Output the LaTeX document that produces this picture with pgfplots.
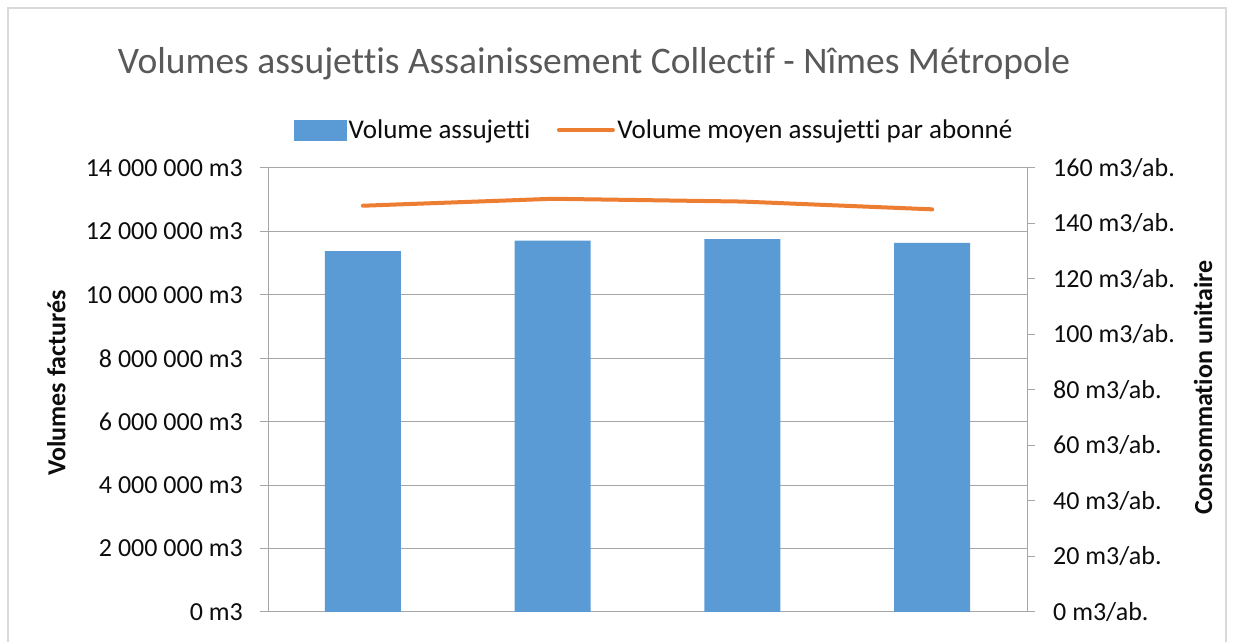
\documentclass[border=0pt]{standalone}
\usepackage{pgfplots}
\pgfplotsset{compat=1.18}
\usepackage{fontspec}
\setmainfont{Carlito}[Ligatures={NoCommon}]
\definecolor{barblue}{RGB}{91,155,213}
\definecolor{lineorange}{RGB}{237,125,49}
\definecolor{gridgray}{RGB}{166,166,166}
\definecolor{framegray}{RGB}{217,217,217}
\definecolor{titlegray}{RGB}{89,89,89}
\definecolor{labelblack}{RGB}{13,13,13}
\begin{document}
\begin{tikzpicture}[x=1bp,y=1bp]
\useasboundingbox (0,0) rectangle (1234,642);
\fill[white] (0,0) rectangle (1234,642);
\draw[framegray, line width=1.2bp] (8,-5) rectangle (1226,634);
\node[anchor=base, font=\fontsize{37.5bp}{44bp}\selectfont, text=titlegray, inner sep=0pt] at (594,568) {Volumes assujettis Assainissement Collectif - Nîmes Métropole};

\begin{axis}[
  at={(268bp,30bp)}, anchor=south west,
  scale only axis, width=759bp, height=444bp,
  xmin=-0.5, xmax=3.5, ymin=0, ymax=14000000,
  scaled y ticks=false,
  axis y line*=left, axis x line*=bottom,
  xtick=\empty,
  ytick={0,2000000,4000000,6000000,8000000,10000000,12000000,14000000},
  yticklabels={0 m3,2 000 000 m3,4 000 000 m3,6 000 000 m3,8 000 000 m3,10 000 000 m3,12 000 000 m3,14 000 000 m3},
  ymajorgrids, grid style={gridgray, line width=1bp},
  axis line style={gridgray, line width=1bp, -},
  y tick style={gridgray, line width=1bp},
  tick align=outside, major tick length=8bp,
  yticklabel style={font=\fontsize{26bp}{31bp}\selectfont, text=labelblack, anchor=east, inner sep=0pt, xshift=-17bp},
  ylabel={Volumes facturés},
  ylabel style={font=\fontsize{26bp}{31bp}\selectfont\bfseries, text=labelblack, at={(rel axis cs:-0.279,0.516)}, anchor=center},
]
\addplot[ybar, bar width=76bp, fill=barblue, draw=none] coordinates {(0,11380000) (1,11710000) (2,11760000) (3,11640000)};
\end{axis}

\begin{axis}[
  at={(268bp,30bp)}, anchor=south west,
  scale only axis, width=759bp, height=444bp,
  xmin=-0.5, xmax=3.5, ymin=0, ymax=160,
  axis y line*=right, axis x line=none,
  xtick=\empty,
  ytick={0,20,40,60,80,100,120,140,160},
  yticklabels={0 m3/ab.,20 m3/ab.,40 m3/ab.,60 m3/ab.,80 m3/ab.,100 m3/ab.,120 m3/ab.,140 m3/ab.,160 m3/ab.},
  axis line style={gridgray, line width=1bp, -},
  y tick style={gridgray, line width=1bp},
  tick align=outside, major tick length=8bp,
  yticklabel style={font=\fontsize{26bp}{31bp}\selectfont, text=labelblack, anchor=west, inner sep=0pt, xshift=18bp},
  ylabel={Consommation unitaire},
  ylabel style={font=\fontsize{26bp}{31bp}\selectfont\bfseries, text=labelblack, at={(rel axis cs:1.232,0.505)}, anchor=center},
  legend style={at={(rel axis cs:0.509,1.0856)}, anchor=center, draw=none, fill=none, legend columns=2,
    font=\fontsize{27bp}{32bp}\selectfont, text=labelblack,
    nodes={inner sep=2.5bp},
    /tikz/every even column/.append style={column sep=24bp}},
]
\addlegendimage{legend image code/.code={\fill[barblue] (0bp,-10bp) rectangle (52bp,10bp);}}
\addlegendentry{Volume assujetti}
\addplot[lineorange, line width=4bp, line cap=round, line join=round,
  legend image code/.code={\draw[lineorange, line width=4bp] (0bp,0bp) -- (54bp,0bp);}]
  coordinates {(0,146.4) (1,148.9) (2,147.9) (3,145.1)};
\addlegendentry{Volume moyen assujetti par abonné}
\end{axis}
\end{tikzpicture}
\end{document}
